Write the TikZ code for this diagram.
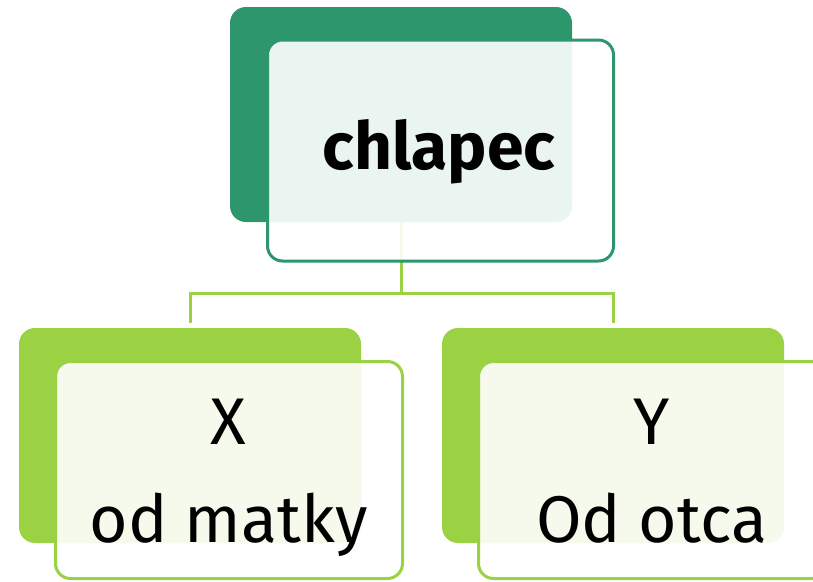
\documentclass[tikz,border=0pt]{standalone}
\usepackage{fontspec}
\setmainfont{Fira Sans}
\definecolor{dkgreen}{HTML}{2E966C}
\definecolor{ltgreen}{HTML}{9AD244}
\begin{document}
\begin{tikzpicture}[x=1pt,y=-1pt,
  box/.style={anchor=north west, inner sep=0pt, outer sep=0pt, rounded corners=16pt},
  backbox/.style={box, fill=#1, minimum width=342pt, minimum height=215pt},
  frontbox/.style={box, draw=#1, line width=3pt, fill=white, fill opacity=0.9, rounded corners=15pt},
  conn/.style={draw=ltgreen, line width=3pt},
  bigtxt/.style={anchor=base, text=black, font=\fontsize{66}{80}\selectfont},
  toptxt/.style={anchor=base, text=black, font=\bfseries\fontsize{66}{80}\selectfont}]
\useasboundingbox (0,0) rectangle (813,581);
\clip (0,0) rectangle (813,581);
% back boxes
\node[backbox=dkgreen] (backtop) at (230,7) {};
\node[backbox=ltgreen] (leftback) at (19,328) {};
\node[backbox=ltgreen] (rightback) at (442,328) {};
% connectors
\coordinate (j) at (402,293);
\draw[conn] (backtop.south) -- (backtop.south |- j);
\draw[conn, shorten >=5pt] (backtop.south |- j) -| (leftback.north);
\draw[conn, shorten >=5pt] (backtop.south |- j) -| (rightback.north);
% front boxes
\node[frontbox=dkgreen, minimum width=346pt, minimum height=221pt] (fronttop) at (267.5,40) {};
\node[frontbox=ltgreen, minimum width=347pt, minimum height=217pt] (leftfront) at (55.5,361.5) {};
\node[frontbox=ltgreen, minimum width=347pt, minimum height=217pt] (rightfront) at (478.5,361.5) {};
% texts
\node[toptxt] (chl) at (439,169) {chlapec};
\node[bigtxt] (xx) at (228.5,444) {X};
\node[bigtxt] (xm) at (228.5,542) {od matky};
\node[bigtxt] (yy) at (651.5,444) {Y};
\node[bigtxt] (yo) at (651.5,542) {Od otca};
\end{tikzpicture}
\end{document}
